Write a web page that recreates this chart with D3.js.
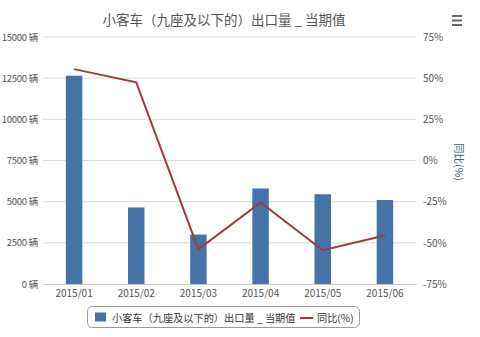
<!DOCTYPE html>
<html><head><meta charset="utf-8">
<script src="https://cdn.jsdelivr.net/npm/d3@7"></script>
<style>
body{margin:0;background:#fff;}
text{font-family:"Noto Sans CJK SC","Liberation Sans",sans-serif;}
</style></head>
<body><svg id="c" width="480" height="337"></svg>
<script>
const categories = ["2015/01","2015/02","2015/03","2015/04","2015/05","2015/06"];
const exportVolume = [12650, 4650, 3000, 5800, 5450, 5100];
const yoyPct = [55.5, 47.5, -54, -25.5, -54.5, -45.5];
const leftTicks = [0, 2500, 5000, 7500, 10000, 12500, 15000];
const rightTicks = [-75, -50, -25, 0, 25, 50, 75];
const titleText = "小客车（九座及以下的）出口量 _ 当期值";
const seriesNames = ["小客车（九座及以下的）出口量 _ 当期值", "同比(%)"];
const rightAxisTitle = "同比(%)";

const svg = d3.select("#c");
const pL = 43, pR = 416, pT = 37, pB = 284;
const barColor = "#4572a7", lineColor = "#a03a3f";

const x = d3.scaleBand().domain(categories).range([pL, pR]).paddingInner(0.735).paddingOuter(0.3675);
const yL = d3.scaleLinear().domain([0, 15000]).range([pB, pT]);
const yR = d3.scaleLinear().domain([-75, 75]).range([pB, pT]);

// gridlines
svg.append("g").selectAll("line").data(leftTicks.filter(d=>d>0)).join("line")
  .attr("x1", pL).attr("x2", pR)
  .attr("y1", d=>yL(d)).attr("y2", d=>yL(d))
  .attr("stroke", "#d9d9d9").attr("stroke-width", 1);

// title
svg.append("text").attr("x", 224).attr("y", 25).attr("text-anchor","middle")
  .attr("font-size", 13.5).attr("fill", "#555").text(titleText);

// hamburger
const hb = svg.append("g").attr("stroke","#666").attr("stroke-width",2);
[16,20.5,25].forEach(yy=>hb.append("line").attr("x1",452).attr("x2",462).attr("y1",yy).attr("y2",yy));

// left axis
const axL = svg.append("g").attr("transform",`translate(${pL},0)`)
  .call(d3.axisLeft(yL).tickValues(leftTicks).tickFormat(d=>d+" 辆").tickSize(0).tickPadding(5));
axL.select(".domain").remove();
axL.selectAll("text").attr("font-size",9.5).attr("fill","#555").attr("letter-spacing","-0.25")
  .style("font-family",'"Noto Sans CJK SC",sans-serif');

// right axis
const axR = svg.append("g").attr("transform",`translate(${pR},0)`)
  .call(d3.axisRight(yR).tickValues(rightTicks).tickFormat(d=>d+"%").tickSize(0).tickPadding(7));
axR.select(".domain").remove();
axR.selectAll("text").attr("font-size",10).attr("fill","#555")
  .style("font-family",'"Noto Sans CJK SC",sans-serif');

svg.append("text").attr("transform",`translate(455,162) rotate(90)`).attr("text-anchor","middle")
  .attr("font-size",10.5).attr("fill","#3f5f80").text(rightAxisTitle);

// bars
svg.append("g").selectAll("rect").data(exportVolume).join("rect")
  .attr("x",(d,i)=>x(categories[i])).attr("width",x.bandwidth())
  .attr("y",d=>yL(d)).attr("height",d=>pB-yL(d)).attr("fill",barColor);

// bottom axis
const axB = svg.append("g").attr("transform",`translate(0,${pB})`)
  .call(d3.axisBottom(x).tickSize(0).tickPadding(6));
axB.select(".domain").attr("stroke","#c8c8c8");
axB.selectAll("text").attr("font-size",10).attr("fill","#555")
  .style("font-family",'"Noto Sans CJK SC",sans-serif');

// line
const line = d3.line().x((d,i)=>x(categories[i])+x.bandwidth()/2).y(d=>yR(d));
svg.append("path").datum(yoyPct).attr("d",line).attr("fill","none")
  .attr("stroke",lineColor).attr("stroke-width",2);

// legend
const lg = svg.append("g");
lg.append("rect").attr("x",87.5).attr("y",306.5).attr("width",272).attr("height",21).attr("rx",5)
  .attr("fill","#fff").attr("stroke","#999");
lg.append("rect").attr("x",95).attr("y",312.5).attr("width",11).attr("height",9).attr("fill",barColor);
lg.append("text").attr("x",112).attr("y",321.5).attr("font-size",10.2).attr("fill","#333").text(seriesNames[0]);
lg.append("line").attr("x1",300).attr("x2",313).attr("y1",318).attr("y2",318).attr("stroke",lineColor).attr("stroke-width",2);
lg.append("text").attr("x",317).attr("y",321.5).attr("font-size",10.2).attr("fill","#333").text(seriesNames[1]);
</script></body></html>
